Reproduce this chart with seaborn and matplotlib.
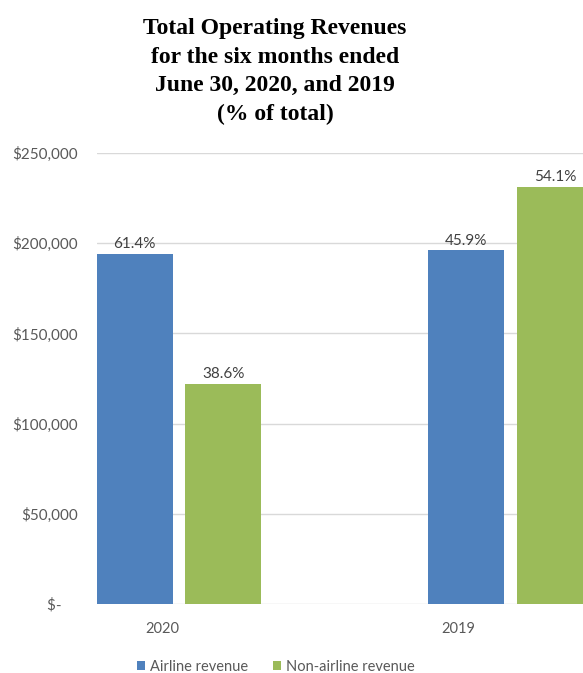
import matplotlib
matplotlib.use("Agg")
import matplotlib.pyplot as plt
import seaborn as sns
import pandas as pd

# Data
years = ["2020", "2019"]
series = ["Airline revenue", "Non-airline revenue"]
airline = [194000, 196000]
non_airline = [122000, 231000]
pct_labels = {"Airline revenue": ["61.4%", "45.9%"],
              "Non-airline revenue": ["38.6%", "54.1%"]}
y_ticks = [0, 50000, 100000, 150000, 200000, 250000]
y_tick_labels = ["$-    ", "$50,000", "$100,000", "$150,000", "$200,000", "$250,000"]
colors = ["#4F81BD", "#9BBB59"]

df = pd.DataFrame({
    "Year": years * 2,
    "Series": [series[0]] * 2 + [series[1]] * 2,
    "Value": airline + non_airline,
})

sns.set_style("white")
plt.rcParams["font.family"] = ["Lato", "DejaVu Sans"]

W, H = 583, 673
fig = plt.figure(figsize=(W / 100, H / 100), dpi=100)
ax = fig.add_axes([97 / W, 69 / H, 1 - 97 / W, 451 / H])

sns.barplot(data=df, x="Year", y="Value", hue="Series", order=years,
            hue_order=series, palette=colors, width=0.535, gap=0.14,
            saturation=1, ax=ax, legend=True, linewidth=0)

ax.set_xlim(-0.247, (W - 179) / 331.5)
ax.set_ylim(0, 250000)
ax.set_yticks(y_ticks)
ax.set_yticklabels(y_tick_labels)
ax.yaxis.grid(True, color="#D9D9D9", linewidth=1)
ax.set_axisbelow(True)
for s in ax.spines.values():
    s.set_visible(False)
ax.set_xlabel("")
ax.set_ylabel("")
ax.tick_params(axis="both", length=0, labelsize=11, labelcolor="#595959")
ax.tick_params(axis="x", labelsize=10.5)
ax.tick_params(axis="y", pad=14)
ax.tick_params(axis="x", pad=13)
ax.set_xticks([-0.05, 0.843])
ax.set_xticklabels(years)

for cont, s in zip(ax.containers, series):
    ax.bar_label(cont, labels=pct_labels[s], padding=2, fontsize=11,
                 color="#404040")

handles, labels = ax.get_legend_handles_labels()
ax.get_legend().remove()
fig.legend(handles, labels, loc="center", bbox_to_anchor=(276 / W, 1 - 667 / H),
           ncol=2, frameon=False, fontsize=10.5, handlelength=0.55,
           handleheight=0.55, handletextpad=0.35, columnspacing=1.7,
           labelcolor="#595959")

fig.text(275 / W, 1 - 18 / H,
         "Total Operating Revenues\nfor the six months ended\nJune 30, 2020, and 2019\n(% of total)",
         ha="center", va="top", fontsize=17, fontweight="bold",
         family="Liberation Serif", linespacing=1.48, color="black")

fig.savefig("out.png", dpi=100)
